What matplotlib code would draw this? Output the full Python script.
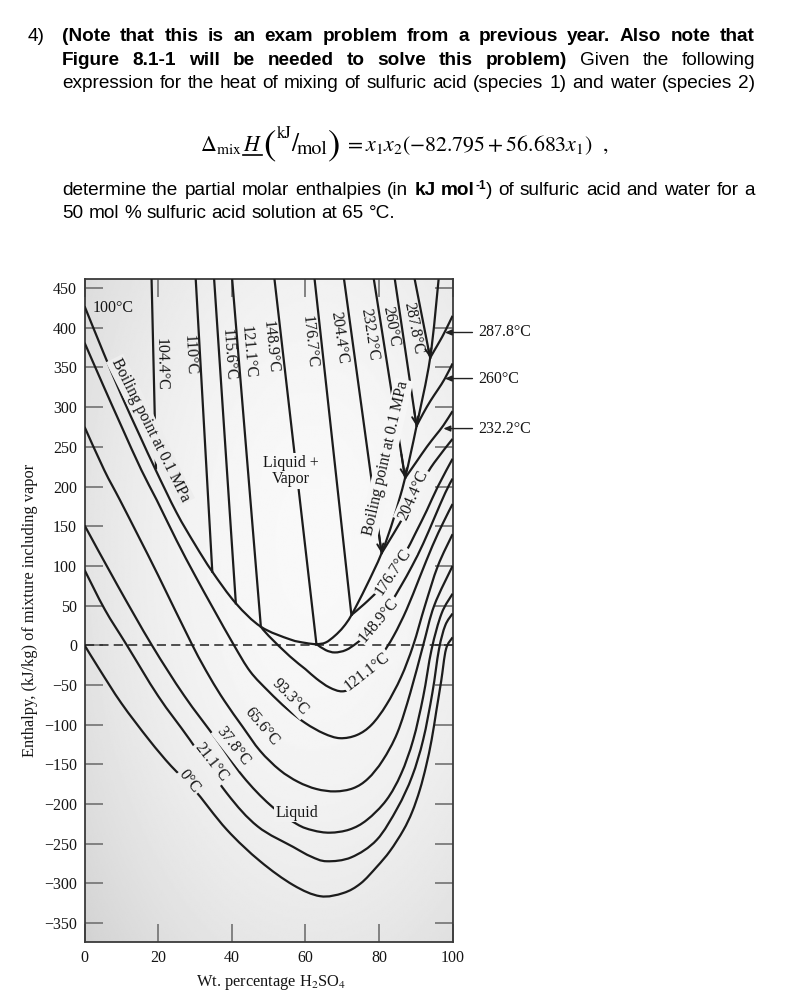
import numpy as np
import matplotlib
matplotlib.use("Agg")
import matplotlib.pyplot as plt
from matplotlib import font_manager
from matplotlib.lines import Line2D
from matplotlib.path import Path
from matplotlib.patches import PathPatch

# ------------------------------------------------------------------ data
x_ticks = [0, 20, 40, 60, 80, 100]
y_ticks = list(range(-350, 451, 50))

# liquid isotherms (x: wt % H2SO4, y: enthalpy kJ/kg)
x_0C = [0, 4, 10, 17.5, 23.5, 29.5, 38.6, 47.7, 56.7, 64.0, 70.3, 75.0, 79.4, 83.0, 86.6, 89.0, 91.1, 92.8, 94.3, 95.6, 96.9, 98.2, 100]
y_0C = [0, -30, -73, -119, -152, -180, -232, -272, -302, -316, -312, -300, -279, -259, -233, -210, -182, -152, -119, -82, -45, -5, 10]

x_21C = [0, 5.5, 11.5, 20, 28.6, 38.6, 47, 56.7, 61.5, 65.8, 72.5, 79.4, 85, 89, 92, 94.5, 96.3, 98, 100]
y_21C = [94.8, 45, 0, -64, -119, -186, -228, -254, -266, -272, -267, -245, -205, -165, -119, -60, -5, 25, 40]

x_38C = [0, 9, 18.3, 27, 35.9, 43, 50.4, 57.6, 62, 66.7, 72, 76.7, 82, 86, 89.3, 92, 94.3, 97, 100]
y_38C = [151, 75, 0, -63, -119, -165, -201, -225, -233, -236, -232, -220, -195, -162, -119, -65, -5, 40, 65]

x_66C = [0, 5.3, 9.6, 15, 20, 29.3, 34, 38, 43, 47.7, 53, 58, 63, 68.1, 73, 77, 81, 85, 88.5, 92, 95, 100]
y_66C = [275, 221, 183, 134, 88, 0, -40, -70, -103, -133, -157, -172, -181, -184, -180, -168, -145, -110, -60, 0, 50, 100]

x_93C = [0, 5, 10, 15.4, 19.6, 25, 30, 35, 40.6, 45, 50, 55, 60, 65, 69.4, 74, 78, 82, 86, 89.3, 92.5, 96, 100]
y_93C = [381, 328, 276, 221, 183, 132, 88, 46, 0, -33, -58, -80, -98, -111, -117, -113, -100, -75, -40, 0, 50, 100, 140]

x_121C = [47.9, 50, 55.8, 60, 63, 66.5, 70, 73.5, 77, 80.5, 84, 87.5, 91, 94.5, 97.5, 100]
y_121C = [23.4, 12, -14, -30, -42, -53, -58, -52, -36, -14, 12, 45, 85, 125, 155, 178]

x_149C = [63, 65.5, 68, 71, 74, 77, 80, 83, 86, 89, 92, 95, 98, 100]
y_149C = [1.5, -6, -9, -6, 3, 15, 32, 52, 75, 100, 128, 160, 192, 210]

x_177C = [72.5, 76, 80, 83.8, 87, 90, 93, 96, 100]
y_177C = [38.2, 52, 70, 92, 115, 142, 170, 200, 235]

x_204C = [80.7, 84, 87, 89.2, 92, 95, 100]
y_204C = [116, 141, 165, 185, 208, 230, 260]

x_232C = [87.1, 90, 93, 95.5, 97.5, 100]
y_232C = [210.7, 230, 250, 265, 277, 295]

x_260C = [90.2, 92, 94, 96, 97.9, 100]
y_260C = [276.2, 292, 308, 322, 336, 355]

x_288C = [93.9, 95, 96.5, 97.9, 100]
y_288C = [362, 371, 383, 395, 415]

# boiling-point curve at 0.1 MPa
x_boil = [0, 5, 10, 15, 19.3, 25, 30, 34.7, 41.1, 47.9, 55.8, 60, 63, 65.5, 68, 70.3, 72.5, 76.5, 80.7, 84, 87.1, 90.2, 93.9, 96.2]
y_boil = [427, 370, 315, 264, 221, 167, 127, 92.7, 52.9, 23.4, 7.5, 3, 1.5, 3.5, 12, 23, 38, 74, 116, 160, 211, 276, 362, 461]

# vapor-liquid tie lines (two-phase isotherms)
tie_names = ["104.4°C", "110°C", "115.6°C", "121.1°C", "148.9°C", "176.7°C",
             "204.4°C", "232.2°C", "260°C", "287.8°C"]
tie_top_x = [18.2, 30.2, 35.2, 40.1, 51.6, 62.5, 70.5, 78.6, 84.3, 89.7]
tie_top_y = [461] * 10
tie_end_x = [19.4, 34.7, 41.1, 47.9, 63.0, 72.5, 80.7, 87.1, 90.2, 93.9]
tie_end_y = [223, 92.7, 52.9, 23.4, 1.5, 38.2, 116, 210.7, 276.2, 362]
tie_arrow = [False, False, False, False, False, False, True, True, True, True]
tie_lab_x = [20.7, 28.6, 39.0, 44.4, 50.4, 61.2, 69.2, 77.4, 83.3, 89.2]
tie_lab_y = [354, 366, 366, 370, 376, 382, 387, 391, 402, 400]
tie_lab_rot = [-89, -87, -86, -85, -84, -84, -82, -81, -80, -79]

# inline labels of liquid isotherms
liq_names = ["0°C", "21.1°C", "37.8°C", "65.6°C", "93.3°C", "121.1°C", "148.9°C", "176.7°C", "204.4°C"]
liq_lab_x = [28.4, 34.5, 40.3, 48.1, 55.8, 76.7, 79.8, 83.8, 89.2]
liq_lab_y = [-172, -147, -127.5, -102.5, -64.7, -33, 32, 92, 189]
liq_lab_rot = [-52, -52, -52, -50, -45, 38, 50, 56, 66]

# right-hand arrow labels
side_names = ["287.8°C", "260°C", "232.2°C"]
side_tip_x = [97.9, 97.9, 97.5]
side_tip_y = [394, 336, 273]

# ------------------------------------------------------------------ setup
W, H = 797, 1001
fams = {f.name for f in font_manager.fontManager.ttflist}
SANS = "Liberation Sans"
SERIF = "Liberation Serif"
plt.rcParams["font.family"] = [SERIF, "DejaVu Serif"]
plt.rcParams["mathtext.fontset"] = "stix"
plt.rcParams["axes.unicode_minus"] = True

fig = plt.figure(figsize=(W / 100, H / 100), dpi=100)
renderer = fig.canvas.get_renderer()

XMIN, XMAX, YMIN, YMAX = 0, 100, -373.7, 461
ax = fig.add_axes([84.6 / W, 1 - 942 / H, (452.6 - 84.6) / W, (942 - 279.3) / H])
ax.set_xlim(XMIN, XMAX)
ax.set_ylim(YMIN, YMAX)


def bg_val(u, v):
    d2 = ((u - 0.62) / 0.75) ** 2 + ((v - 0.60) / 0.80) ** 2
    return np.clip(0.975 - 0.12 * d2, 0, 1)


uu, vv = np.meshgrid(np.linspace(0, 1, 300), np.linspace(0, 1, 300))
ax.imshow(bg_val(uu, vv), extent=[XMIN, XMAX, YMIN, YMAX], origin="lower", cmap="gray",
          vmin=0, vmax=1, aspect="auto", zorder=0, interpolation="bilinear")

LC = "#1c1c1c"
LW = 1.6


def smooth_curve(xs, ys):
    """Cubic Bezier path passing through the read points (Catmull-Rom tangents)."""
    P = np.column_stack([xs, ys]).astype(float)
    n = len(P)
    verts = [P[0]]
    codes = [Path.MOVETO]
    for i in range(n - 1):
        p0 = P[i - 1] if i > 0 else P[i]
        p1, p2 = P[i], P[i + 1]
        p3 = P[i + 2] if i + 2 < n else P[i + 1]
        verts += [p1 + (p2 - p0) / 6.0, p2 - (p3 - p1) / 6.0, p2]
        codes += [Path.CURVE4] * 3
    return Path(verts, codes)


curves = [(x_0C, y_0C), (x_21C, y_21C), (x_38C, y_38C), (x_66C, y_66C), (x_93C, y_93C),
          (x_121C, y_121C), (x_149C, y_149C), (x_177C, y_177C), (x_204C, y_204C),
          (x_232C, y_232C), (x_260C, y_260C), (x_288C, y_288C), (x_boil, y_boil)]
for cx, cy in curves:
    ax.add_patch(PathPatch(smooth_curve(cx, cy), fill=False, ec=LC, lw=LW, zorder=3,
                           joinstyle="round", capstyle="butt"))

for i in range(len(tie_names)):
    ax.plot([tie_top_x[i], tie_end_x[i]], [tie_top_y[i], tie_end_y[i]], color=LC, lw=LW, zorder=3)
    if tie_arrow[i]:
        fx = tie_end_x[i] + 0.12 * (tie_top_x[i] - tie_end_x[i])
        fy = tie_end_y[i] + 0.12 * (tie_top_y[i] - tie_end_y[i])
        ax.annotate("", xy=(tie_end_x[i], tie_end_y[i]), xytext=(fx, fy),
                    arrowprops=dict(arrowstyle="->,head_length=0.5,head_width=0.22", lw=1.4, color=LC,
                                    shrinkA=0, shrinkB=0), zorder=4)

ax.axhline(0, color="#222222", lw=1.1, ls=(0, (6, 3.4)), zorder=2.8)


def clabel(x, y, s, rot, mask=True, size=11.5):
    u = (x - XMIN) / (XMAX - XMIN)
    v = (y - YMIN) / (YMAX - YMIN)
    g = float(bg_val(u, v))
    kw = {}
    if mask:
        kw["bbox"] = dict(boxstyle="square,pad=0.1", fc=(g, g, g), ec="none")
    ax.text(x, y, s, rotation=rot, rotation_mode="anchor", ha="center", va="center",
            fontsize=size, color="#151515", zorder=5, linespacing=1.0, **kw)


for i in range(len(tie_names)):
    clabel(tie_lab_x[i], tie_lab_y[i], tie_names[i], tie_lab_rot[i], mask=False)
for i in range(len(liq_names)):
    clabel(liq_lab_x[i], liq_lab_y[i], liq_names[i], liq_lab_rot[i], mask=True)

clabel(7.7, 425, "100°C", 0, mask=False)
clabel(17.9, 271, "Boiling point at 0.1 MPa", -63.5, mask=True)
clabel(81.9, 236, "Boiling point at 0.1 MPa", 77, mask=True)
clabel(56.1, 219.6, "Liquid +\nVapor", 0, mask=True)
clabel(57.6, -210.6, "Liquid", 0, mask=True)

for i in range(len(side_names)):
    ax.annotate(side_names[i], xy=(side_tip_x[i], side_tip_y[i]), xytext=(106.9, side_tip_y[i]),
                textcoords="data", ha="left", va="center", fontsize=11.5, color="#151515",
                annotation_clip=False, zorder=6,
                arrowprops=dict(arrowstyle="-|>,head_length=0.35,head_width=0.15", lw=1.0,
                                color="#222222", shrinkA=2, shrinkB=0))

ax.set_xticks(x_ticks)
ax.set_yticks(y_ticks)
ax.tick_params(axis="both", direction="in", length=13, width=1.3, color="#7a7a7a",
               labelsize=11.5, labelcolor="#151515", top=True, right=True, pad=5.5)
for sp in ax.spines.values():
    sp.set_color("#3a3a3a")
    sp.set_linewidth(1.3)

fig.text(271 / W, 1 - 983 / H, "Wt. percentage H$_2$SO$_4$", ha="center", va="center",
         fontsize=11.8, color="#151515")
fig.text(30 / W, 1 - 610 / H, "Enthalpy, (kJ/kg) of mixture including vapor", ha="center",
         va="center", rotation=90, fontsize=11.8, color="#151515")

# ------------------------------------------------------------------ problem text


def tw(s, size, weight="normal", family=SANS):
    t = fig.text(0, 0, s, fontsize=size, fontweight=weight, family=family)
    w = t.get_window_extent(renderer).width
    t.remove()
    return w


def word(s, weight="normal"):
    return [(s, weight, 1.0, 0)]


line3 = "expression for the heat of mixing of sulfuric acid (species 1) and water (species 2)"
FS = 10 * 688 / tw(line3, 10)
SPACE = tw("a a", FS) - tw("aa", FS)


def word_width(wd):
    return sum(tw(p[0], FS * p[2], p[1]) for p in wd)


def draw_line(words, x0, x1, ybase, justify=True):
    widths = [word_width(w) for w in words]
    if justify and len(words) > 1:
        gap = (x1 - x0 - sum(widths)) / (len(words) - 1)
    else:
        gap = SPACE
    x = x0
    for wd, wdt in zip(words, widths):
        xx = x
        for (s, weight, sf, dy) in wd:
            fig.text(xx / W, 1 - (ybase - dy) / H, s, fontsize=FS * sf, fontweight=weight,
                     family=SANS, ha="left", va="baseline", color="black")
            xx += tw(s, FS * sf, weight)
        x += wdt + gap


X0, X1 = 62, 755
fig.text(28 / W, 1 - 41 / H, "4)", fontsize=FS, family=SANS, ha="left", va="baseline")
draw_line([word(w, "bold") for w in
           "(Note that this is an exam problem from a previous year. Also note that".split()],
          X0, X1, 41)
draw_line([word(w, "bold") for w in "Figure 8.1-1 will be needed to solve this problem)".split()] +
          [word(w) for w in "Given the following".split()], X0, X1, 65)
draw_line([word(w) for w in line3.split()], X0, X1, 88)
l5 = [word(w) for w in "determine the partial molar enthalpies (in".split()]
l5 += [word("kJ", "bold"), [("mol", "bold", 1.0, 0), ("-1", "bold", 0.62, 6), (")", "normal", 1.0, 0)]]
l5 += [word(w) for w in "of sulfuric acid and water for a".split()]
draw_line(l5, X0, X1, 195)
draw_line([word(w) for w in "50 mol % sulfuric acid solution at 65 °C.".split()], X0, X1, 218, justify=False)

# equation (pieces laid out one after the other)
EQF = "STIXGeneral"
EFS = 10 * 250 / tw(r"$= x_1x_2(-82.795 + 56.683x_1)$", 10, family=EQF)
EY = 151


def put(s, x, y, size, family=EQF):
    t = fig.text(x / W, 1 - y / H, s, fontsize=size, family=family, ha="left", va="baseline",
                 color="black")
    return t.get_window_extent(renderer)


x = 200
bb = put(r"$\Delta_{\mathrm{mix}}$", x, EY, EFS)
x = bb.x1 + 1
bb = put(r"$H$", x, EY, EFS)
fig.add_artist(Line2D([bb.x0 / W, bb.x1 / W], [(H - EY - 3.5) / H] * 2,
                      transform=fig.transFigure, color="black", lw=1.2))
x = bb.x1 + 2
bb = put("(", x, EY + 4, EFS * 1.7)
x = bb.x1 + 1
bb = put("kJ", x, EY - 13, EFS * 0.78)
x = bb.x1 - 1
bb = put("/", x, EY, EFS * 1.15)
x = bb.x1 - 1
bb = put("mol", x, EY + 3, EFS * 0.9)
x = bb.x1 + 0.5
bb = put(")", x, EY + 4, EFS * 1.7)
x = bb.x1 + 3
bb = put(r"$= x_1x_2(-82.795 + 56.683x_1)$", x, EY, EFS)
put(",", bb.x1 + 11, EY, EFS)

fig.savefig("out.png", dpi=100)
